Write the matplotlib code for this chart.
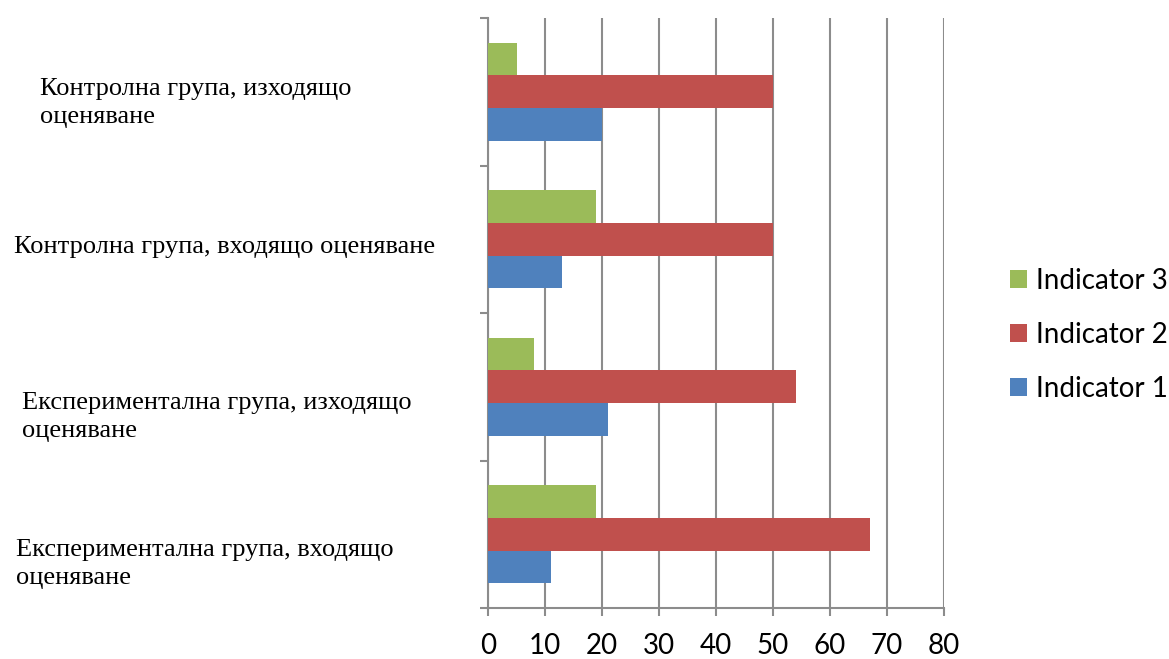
import matplotlib.pyplot as plt
from matplotlib.patches import Patch
import numpy as np

W, H = 1169, 659

categories = [
    "Експериментална група, входящо\nоценяване",
    "Експериментална група, изходящо\nоценяване",
    "Контролна група, входящо оценяване",
    "Контролна група, изходящо\nоценяване",
]
indicator1 = [11, 21, 13, 20]
indicator2 = [67, 54, 50, 50]
indicator3 = [19, 8, 19, 5]
series_names = ["Indicator 1", "Indicator 2", "Indicator 3"]
x_ticks = [0, 10, 20, 30, 40, 50, 60, 70, 80]

colors = ["#4F81BD", "#C0504D", "#9BBB59"]
grid_color = "#8C8C8C"

fig = plt.figure(figsize=(W / 100, H / 100), dpi=100)
ax = fig.add_axes([488 / W, 51 / H, 456 / W, 590 / H])

y = np.arange(len(categories))
bh = 0.222
for vals, off, c in zip([indicator1, indicator2, indicator3], [-bh, 0, bh], colors):
    ax.barh(y + off, vals, height=bh, color=c, zorder=3)

ax.set_xlim(0, 80)
ax.set_ylim(-0.5, len(categories) - 0.5)
ax.set_xticks(x_ticks)
ax.set_xticklabels([str(t) for t in x_ticks], fontsize=20, family="Lato")
ax.set_yticks(np.arange(len(categories) + 1) - 0.5)
ax.set_yticklabels([])
ax.xaxis.grid(True, color=grid_color, linewidth=1.5, zorder=0)
ax.tick_params(axis="x", direction="out", length=6, width=1.5, color=grid_color, pad=12)
ax.tick_params(axis="y", direction="out", length=6, width=1.5, color=grid_color)
for s in ["top", "right"]:
    ax.spines[s].set_visible(False)
for s in ["left", "bottom"]:
    ax.spines[s].set_color(grid_color)
    ax.spines[s].set_linewidth(1.5)

# category labels, left-aligned beside their groups
label_pos = [(16, 564), (22, 417), (14, 247), (40, 103)]
for text, (px, py) in zip(categories, label_pos):
    fig.text(px / W, 1 - py / H, text, ha="left", va="center",
             fontsize=19, family="Liberation Serif", linespacing=1.35)

handles = [Patch(facecolor=colors[i], edgecolor="none") for i in [2, 1, 0]]
labels = [series_names[i] for i in [2, 1, 0]]
fig.legend(handles, labels, loc="center left", bbox_to_anchor=(1010 / W, 1 - 335 / H),
           frameon=False, prop={"family": "Lato", "size": 20},
           borderpad=0, borderaxespad=0,
           handlelength=0.62, handleheight=0.62, handletextpad=0.3, labelspacing=1.0)

fig.savefig("out.png", dpi=100)
